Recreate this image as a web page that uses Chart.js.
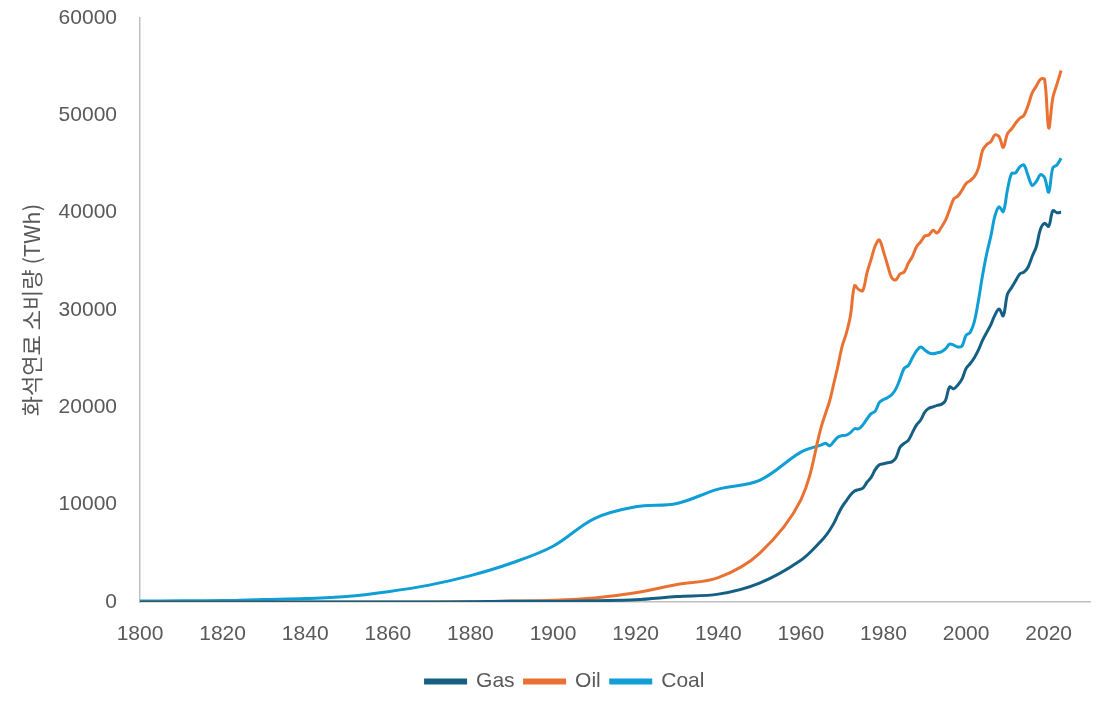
<!DOCTYPE html>
<html>
<head>
<meta charset="utf-8">
<script src="https://cdn.jsdelivr.net/npm/chart.js@4/dist/chart.umd.min.js"></script>
<style>
  html, body { margin: 0; padding: 0; background: #fff; }
  #wrap { width: 1112px; height: 714px; }
</style>
</head>
<body>
<div id="wrap"><canvas id="chart"></canvas></div>
<script>
// years: every 10 years up to 1960, then yearly
const years = [1800,1810,1820,1830,1840,1850,1860,1870,1880,1890,1900,1910,1920,1930,1940,1950,1960,
  1965,1966,1967,1968,1969,1970,1971,1972,1973,1974,1975,1976,1977,1978,1979,
  1980,1981,1982,1983,1984,1985,1986,1987,1988,1989,1990,1991,1992,1993,1994,
  1995,1996,1997,1998,1999,2000,2001,2002,2003,2004,2005,2006,2007,2008,2009,
  2010,2011,2012,2013,2014,2015,2016,2017,2018,2019,2020,2021,2022,2023]

const gas = [0,0,0,0,0,0,0,0,33,89,64,141,233,560,810,1950,4300,
  6300,6800,7400,8100,9000,9800,10400,11000,11400,11550,11700,12300,12800,13600,14100,
  14200,14300,14400,14800,15900,16300,16600,17400,18200,18700,19500,19900,20050,20200,20300,
  20700,22100,21900,22300,22900,24000,24500,25100,25900,26900,27700,28500,29500,30100,29400,
  31600,32300,33000,33700,33900,34400,35500,36500,38300,38900,38600,40200,40000,40050]

const oil = [0,0,0,0,0,0,0,6,33,90,181,420,950,1800,2500,5000,10500,
  18100,19400,20700,22500,24300,26300,27600,29400,32500,32100,32000,33800,35200,36600,37200,
  36000,34600,33300,33100,33700,33900,34800,35500,36500,37000,37600,37700,38200,37900,38500,
  39200,40300,41400,41700,42300,43000,43300,43700,44600,46400,47000,47300,48000,47800,46700,
  48100,48600,49200,49700,50000,51000,52300,53000,53700,53700,48700,51800,53200,54600]

const coal = [97,128,153,264,356,569,1058,1733,2708,4006,5728,8573,9786,10126,11600,12500,15400,
  16140,16300,16050,16500,16950,17100,17150,17400,17800,17800,18200,18800,19350,19600,20500,
  20800,21000,21300,21900,22900,24000,24300,25100,25800,26200,25900,25600,25500,25600,25700,
  26000,26500,26400,26200,26300,27400,27700,28800,31000,33600,35800,37600,39700,40600,40100,
  42300,44000,44100,44700,44900,43800,42800,43200,43900,43600,42100,44600,44900,45600]

const xTicks = [1800,1820,1840,1860,1880,1900,1920,1940,1960,1980,2000,2020]
const yTitle = '화석연료 소비량 (TWh)'

const txtColor = '#595959'
const axisColor = '#bfbfbf'
const fontFam = '"Liberation Sans", Arial, sans-serif'

points = (vals) => years.map((yr, i) => ({ x: yr, y: vals[i] }))

makeSet = (label, vals, color) => ({
  label: label,
  data: points(vals),
  borderColor: color,
  backgroundColor: color,
  borderWidth: 3,
  pointRadius: 0,
  tension: 0.35,
  fill: false
})

// legend is centred a bit right of the plot in the original
const shiftLegend = {
  id: 'shiftLegend',
  afterLayout: (chart) => {
    chart.legend.left += 20
    chart.legend.right += 20
  }
}

const ctx = document.getElementById('chart').getContext('2d')
const myChart = new Chart(ctx, {
  type: 'line',
  data: {
    datasets: [
      makeSet('Gas', gas, '#156082'),
      makeSet('Oil', oil, '#E97132'),
      makeSet('Coal', coal, '#0F9ED5')
    ]
  },
  plugins: [shiftLegend],
  options: {
    responsive: true,
    maintainAspectRatio: false,
    animation: false,
    layout: { padding: { top: 18, right: 22, bottom: 12, left: 0 } },
    plugins: {
      tooltip: { enabled: false },
      legend: {
        position: 'bottom',
        labels: {
          boxWidth: 40,
          boxHeight: 3,
          padding: 10,
          color: txtColor,
          font: { family: fontFam, size: 21 }
        }
      }
    },
    scales: {
      x: {
        type: 'linear',
        min: 1800,
        max: 2030,
        afterBuildTicks: (scale) => { scale.ticks = xTicks.map(v => ({ value: v })) },
        afterFit: (scale) => { scale.height = 59 },
        grid: { display: false, drawTicks: false },
        border: { display: true, color: axisColor, width: 1.5 },
        ticks: {
          color: txtColor,
          padding: 20,
          maxRotation: 0,
          autoSkip: false,
          font: { family: fontFam, size: 21 },
          callback: (v) => String(v)
        }
      },
      y: {
        min: 0,
        max: 60000,
        afterFit: (scale) => {
          scale.width = 140
          scale.paddingTop = 0
          scale.paddingBottom = 0
        },
        grid: { display: false, drawTicks: false },
        border: { display: true, color: axisColor, width: 1.5 },
        ticks: {
          stepSize: 10000,
          color: txtColor,
          padding: 23,
          font: { family: fontFam, size: 21 },
          callback: (v) => String(v)
        },
        title: {
          display: true,
          text: yTitle,
          color: txtColor,
          padding: { top: 18, bottom: 0 },
          font: { family: '"Noto Sans CJK KR", "Liberation Sans", sans-serif', size: 22 }
        }
      }
    }
  }
})
</script>
</body>
</html>
